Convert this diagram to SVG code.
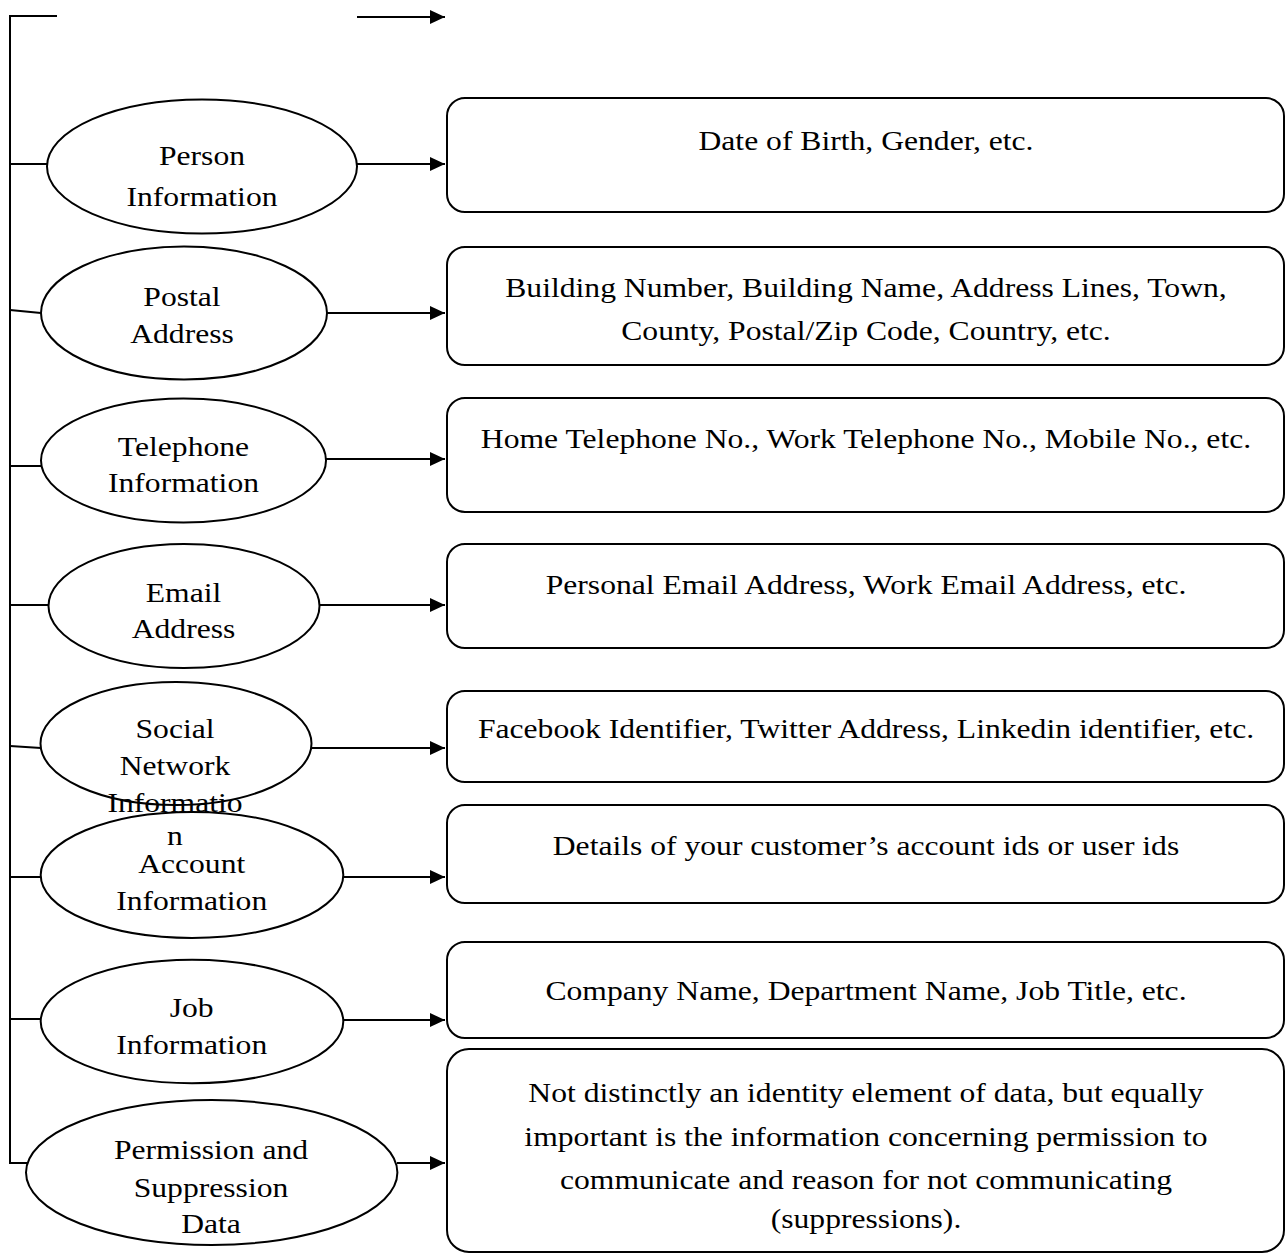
<svg xmlns="http://www.w3.org/2000/svg" width="1285" height="1254" viewBox="0 0 1285 1254">
<style>
.bg{fill:#ffffff}
.ell{fill:#ffffff;stroke:#000000;stroke-width:2}
.box{fill:#ffffff;stroke:#000000;stroke-width:2}
.ln{fill:none;stroke:#000000;stroke-width:2}
.t{font-family:"Liberation Serif","Times New Roman",serif;font-size:28px;fill:#000000;text-anchor:middle}
</style>
<defs>
<marker id="arr" markerUnits="userSpaceOnUse" markerWidth="16" markerHeight="16" refX="15" refY="7" orient="auto">
<path d="M0,0 L15,7 L0,14 Z" fill="#000000"/>
</marker>
</defs>
<rect class="bg" x="0" y="0" width="1285" height="1254"/>
<g id="connectors">
<polyline class="ln" points="57,16 10,16 10,1163 27,1163"/>
<line class="ln" x1="357" y1="17" x2="445" y2="17" marker-end="url(#arr)"/>
<line class="ln" x1="10" y1="164" x2="47" y2="164"/>
<line class="ln" x1="10" y1="310" x2="41" y2="313"/>
<line class="ln" x1="10" y1="466" x2="41" y2="466"/>
<line class="ln" x1="10" y1="605" x2="48" y2="605"/>
<line class="ln" x1="10" y1="746" x2="41" y2="748"/>
<line class="ln" x1="10" y1="877" x2="41" y2="877"/>
<line class="ln" x1="10" y1="1019" x2="41" y2="1019"/>
<line class="ln" x1="357" y1="164" x2="445" y2="164" marker-end="url(#arr)"/>
<line class="ln" x1="327" y1="313" x2="445" y2="313" marker-end="url(#arr)"/>
<line class="ln" x1="326" y1="459" x2="445" y2="459" marker-end="url(#arr)"/>
<line class="ln" x1="319" y1="605" x2="445" y2="605" marker-end="url(#arr)"/>
<line class="ln" x1="312" y1="748" x2="445" y2="748" marker-end="url(#arr)"/>
<line class="ln" x1="343" y1="877" x2="445" y2="877" marker-end="url(#arr)"/>
<line class="ln" x1="343" y1="1020" x2="445" y2="1020" marker-end="url(#arr)"/>
<line class="ln" x1="397" y1="1163" x2="445" y2="1163" marker-end="url(#arr)"/>
</g>
<g id="box-person">
<rect class="box" x="447" y="98" width="837" height="114" rx="18"/>
<text class="t" transform="translate(866 0) scale(1.13 1)"><tspan x="0" y="150">Date of Birth, Gender, etc.</tspan></text>
</g>
<g id="box-postal">
<rect class="box" x="447" y="247" width="837" height="118" rx="18"/>
<text class="t" transform="translate(866 0) scale(1.13 1)"><tspan x="0" y="297">Building Number, Building Name, Address Lines, Town,</tspan><tspan x="0" y="340">County, Postal/Zip Code, Country, etc.</tspan></text>
</g>
<g id="box-telephone">
<rect class="box" x="447" y="398" width="837" height="114" rx="18"/>
<text class="t" transform="translate(866 0) scale(1.13 1)"><tspan x="0" y="448">Home Telephone No., Work Telephone No., Mobile No., etc.</tspan></text>
</g>
<g id="box-email">
<rect class="box" x="447" y="544" width="837" height="104" rx="18"/>
<text class="t" transform="translate(866 0) scale(1.13 1)"><tspan x="0" y="594">Personal Email Address, Work Email Address, etc.</tspan></text>
</g>
<g id="box-social">
<rect class="box" x="447" y="691" width="837" height="91" rx="18"/>
<text class="t" transform="translate(866 0) scale(1.13 1)"><tspan x="0" y="738">Facebook Identifier, Twitter Address, Linkedin identifier, etc.</tspan></text>
</g>
<g id="box-account">
<rect class="box" x="447" y="805" width="837" height="98" rx="18"/>
<text class="t" transform="translate(866 0) scale(1.13 1)"><tspan x="0" y="855">Details of your customer’s account ids or user ids</tspan></text>
</g>
<g id="box-job">
<rect class="box" x="447" y="942" width="837" height="96" rx="18"/>
<text class="t" transform="translate(866 0) scale(1.13 1)"><tspan x="0" y="1000">Company Name, Department Name, Job Title, etc.</tspan></text>
</g>
<g id="box-permission">
<rect class="box" x="447" y="1049" width="837" height="203" rx="22"/>
<text class="t" transform="translate(866 0) scale(1.13 1)"><tspan x="0" y="1102">Not distinctly an identity element of data, but equally</tspan><tspan x="0" y="1146">important is the information concerning permission to</tspan><tspan x="0" y="1189">communicate and reason for not communicating</tspan><tspan x="0" y="1228">(suppressions).</tspan></text>
</g>
<g id="node-person">
<ellipse class="ell" cx="202" cy="166.5" rx="155" ry="67"/>
<text class="t" transform="translate(202 0) scale(1.13 1)"><tspan x="0" y="165">Person</tspan><tspan x="0" y="206">Information</tspan></text>
</g>
<g id="node-postal">
<ellipse class="ell" cx="184" cy="313" rx="143" ry="66.5"/>
<text class="t" transform="translate(182 0) scale(1.13 1)"><tspan x="0" y="306">Postal</tspan><tspan x="0" y="343">Address</tspan></text>
</g>
<g id="node-telephone">
<ellipse class="ell" cx="183.5" cy="460.5" rx="142.5" ry="62"/>
<text class="t" transform="translate(183.5 0) scale(1.13 1)"><tspan x="0" y="456">Telephone</tspan><tspan x="0" y="492">Information</tspan></text>
</g>
<g id="node-email">
<ellipse class="ell" cx="184" cy="606" rx="135.5" ry="62"/>
<text class="t" transform="translate(183.5 0) scale(1.13 1)"><tspan x="0" y="602">Email</tspan><tspan x="0" y="638">Address</tspan></text>
</g>
<g id="node-social">
<ellipse class="ell" cx="176" cy="743.5" rx="135.5" ry="61.5"/>
</g>
<g id="node-account">
<ellipse class="ell" cx="192" cy="875" rx="151.3" ry="63"/>
<text class="t" transform="translate(191.7 0) scale(1.13 1)"><tspan x="0" y="873">Account</tspan><tspan x="0" y="910">Information</tspan></text>
</g>
<g id="node-social-text">
<text class="t" transform="translate(175 0) scale(1.13 1)"><tspan x="0" y="738">Social</tspan><tspan x="0" y="775">Network</tspan><tspan x="0" y="812">Informatio</tspan><tspan x="0" y="845">n</tspan></text>
</g>
<g id="node-job">
<ellipse class="ell" cx="192" cy="1021.5" rx="151.3" ry="61.7"/>
<text class="t" transform="translate(191.7 0) scale(1.13 1)"><tspan x="0" y="1017">Job</tspan><tspan x="0" y="1054">Information</tspan></text>
</g>
<g id="node-permission">
<ellipse class="ell" cx="211.7" cy="1172.5" rx="185.7" ry="72.5"/>
<text class="t" transform="translate(211 0) scale(1.13 1)"><tspan x="0" y="1159">Permission and</tspan><tspan x="0" y="1197">Suppression</tspan><tspan x="0" y="1233">Data</tspan></text>
</g>
</svg>
